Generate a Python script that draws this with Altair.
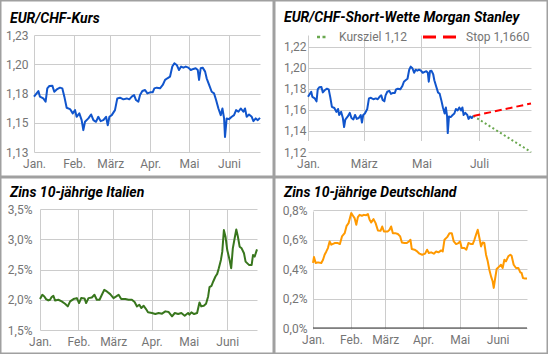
import json
import altair as alt
import pandas as pd

BASE = pd.Timestamp("2018-01-01")
MONTHS = ["Jan.", "Feb.", "März", "Apr.", "Mai", "Juni", "Juli", "Aug."]

TITLES = ["EUR/CHF-Kurs", "EUR/CHF-Short-Wette Morgan Stanley",
          "Zins 10-jährige Italien", "Zins 10-jährige Deutschland"]
LEGEND_LABELS = ["Kursziel 1,12", "Stop 1,1660"]

# EUR/CHF (days since 1 Jan 2018, rate)
eur_days = [0, 3.4, 4.6, 7.2, 9.0, 10.3, 11.9, 14.2, 15.7, 17.6,
            20.1, 21.9, 23.5, 25.3, 27.9, 30.0, 31.8, 33.0, 35.1, 36.9,
            38.2, 39.5, 42.1, 44.2, 46.0, 48.0, 49.8, 51.6, 53.7, 55.8,
            57.1, 58.4, 60.2, 62.7, 64.5, 66.6, 69.2, 71.8, 73.8, 75.7,
            77.5, 79.0, 80.8, 82.1, 83.9, 86.0, 87.8, 89.9, 91.9, 93.2,
            95.0, 97.6, 99.7, 101.5, 103.3, 105.3, 107.1, 108.7, 110.5, 112.3,
            113.9, 115.7, 117.5, 119.5, 121.4, 123.4, 125.2, 126.8, 127.8, 129.1,
            130.6, 132.5, 133.7, 135.6, 137.6, 139.4, 141.0, 142.8, 144.6, 145.9,
            147.2, 147.9, 149.2, 151.0, 153.1, 154.9, 156.5, 158.3, 160.1, 162.1,
            163.4, 164.7, 166.5, 168.6, 169.9, 171.7, 173.3, 175.0]
eur_vals = [1.1723, 1.1771, 1.1723, 1.1708, 1.1680, 1.1794, 1.1814, 1.1817, 1.1765, 1.1785,
            1.1800, 1.1794, 1.1723, 1.1628, 1.1617, 1.1580, 1.1608, 1.1551, 1.1580, 1.1522,
            1.1437, 1.1508, 1.1537, 1.1571, 1.1522, 1.1508, 1.1551, 1.1514, 1.1522, 1.1551,
            1.1479, 1.1551, 1.1565, 1.1608, 1.1708, 1.1714, 1.1700, 1.1708, 1.1700, 1.1723,
            1.1737, 1.1694, 1.1680, 1.1737, 1.1771, 1.1780, 1.1751, 1.1760, 1.1760, 1.1794,
            1.1800, 1.1794, 1.1823, 1.1866, 1.1880, 1.1894, 1.1980, 1.2009, 1.1994, 1.1951,
            1.1980, 1.1971, 1.1980, 1.1971, 1.1951, 1.1960, 1.1966, 1.1951, 1.1866, 1.1966,
            1.1971, 1.1937, 1.1880, 1.1823, 1.1765, 1.1751, 1.1694, 1.1622, 1.1565, 1.1622,
            1.1537, 1.1379, 1.1537, 1.1531, 1.1551, 1.1565, 1.1608, 1.1594, 1.1622, 1.1594,
            1.1622, 1.1551, 1.1571, 1.1551, 1.1514, 1.1537, 1.1522, 1.1542]

# Forecast lines (Morgan Stanley short bet)
fc_days = [175, 236]
fc_target = [1.1542, 1.12]
fc_stop = [1.1542, 1.166]

# Italy 10y yield (%)
ita_days = [0, 1.9, 3.5, 4.9, 6.7, 8.1, 9.4, 10.8, 12.1, 14.8,
            17.5, 20.2, 22.4, 24.3, 27, 29.7, 31.5, 33.2, 35.9, 37.2,
            39.1, 41.8, 43.9, 45.8, 48, 49.9, 51.8, 53.9, 56.6, 59.3,
            61.5, 63.4, 65.5, 68.8, 71.4, 74.1, 76.3, 78.2, 80.1, 81.7,
            83.6, 85.5, 87.1, 90.3, 93, 95.7, 98.4, 101.1, 103.8, 106.5,
            108.7, 111.4, 114, 116.7, 119.4, 120.5, 122.1, 124.3, 126.7, 128.6,
            130, 132.1, 133.9, 135.6, 136.7, 138.3, 139.7, 141.5, 142.9, 144.2,
            145.9, 147, 148.3, 149.6, 151, 152.9, 154.2, 155.5, 157.2, 158.3,
            159.6, 161, 162.6, 164.5, 165.8, 168.5, 170.7, 171.8, 173.1, 175]
ita_vals = [2.011, 2.082, 2.055, 2.011, 1.989, 2.0, 2.044, 2.066, 1.989, 2.0,
            1.973, 1.934, 1.890, 1.973, 2.011, 2.027, 1.945, 2.027, 2.022, 1.945,
            2.027, 2.038, 2.082, 2.0, 2.0, 2.082, 2.164, 2.137, 2.093, 2.027,
            2.055, 2.082, 2.011, 2.011, 2.0, 2.0, 1.962, 1.890, 1.918, 1.863,
            1.901, 1.846, 1.792, 1.781, 1.764, 1.781, 1.770, 1.808, 1.797, 1.726,
            1.781, 1.764, 1.781, 1.737, 1.781, 1.753, 1.792, 1.764, 1.781, 1.956,
            1.890, 1.901, 1.934, 2.055, 2.208, 2.230, 2.302, 2.384, 2.428, 2.521,
            2.658, 2.795, 3.151, 3.042, 2.822, 2.658, 2.521, 2.850, 3.042, 3.162,
            3.042, 2.877, 2.850, 2.768, 2.630, 2.576, 2.576, 2.740, 2.713, 2.833]

# Germany 10y yield (%)
ger_days = [0, 0.8, 2.2, 4.1, 6.8, 8.2, 9.5, 10.9, 12.2, 13.6,
            15, 17.7, 20.4, 22, 23.7, 25.9, 27.5, 29.1, 30.2, 31.3,
            32.7, 34, 35.4, 36.7, 38.1, 40, 41.6, 43.5, 44.9, 46.3,
            47.6, 49.5, 51.2, 53.1, 55.2, 56.6, 58, 59.9, 61.2, 62.6,
            63.9, 65.3, 67.2, 69.4, 71.3, 72.7, 74.8, 76.7, 78.4, 79.7,
            80.8, 83, 85.2, 87.1, 89.3, 91.7, 93.3, 94.7, 96.6, 98.8,
            100.7, 102.6, 104.8, 106.1, 107.5, 109.7, 111.6, 113.5, 115.1, 117,
            118.9, 120.3, 121.6, 123.8, 125.4, 127.1, 129.3, 130.6, 132, 133.3,
            134.7, 136.1, 137.4, 138.8, 140.1, 141.5, 142.9, 144.2, 145.6, 146.9,
            147.8, 148.8, 150.2, 152.4, 153.7, 155.1, 156.5, 157.8, 159.7, 161.4,
            162.4, 164.1, 166, 167.9, 169.5, 170.6, 171.7, 173.4, 175]
ger_vals = [0.441, 0.481, 0.441, 0.445, 0.441, 0.463, 0.497, 0.519, 0.542, 0.587,
            0.565, 0.576, 0.576, 0.569, 0.621, 0.643, 0.693, 0.711, 0.745, 0.779,
            0.761, 0.745, 0.700, 0.752, 0.767, 0.761, 0.767, 0.765, 0.772, 0.734,
            0.716, 0.738, 0.711, 0.661, 0.659, 0.688, 0.655, 0.655, 0.655, 0.666,
            0.688, 0.643, 0.643, 0.637, 0.621, 0.580, 0.576, 0.576, 0.587, 0.598,
            0.535, 0.531, 0.519, 0.504, 0.497, 0.504, 0.531, 0.508, 0.513, 0.504,
            0.519, 0.513, 0.526, 0.519, 0.598, 0.616, 0.643, 0.643, 0.587, 0.569,
            0.576, 0.587, 0.542, 0.542, 0.531, 0.576, 0.569, 0.569, 0.598, 0.632,
            0.666, 0.610, 0.553, 0.580, 0.576, 0.497, 0.452, 0.395, 0.350, 0.317,
            0.272, 0.328, 0.400, 0.418, 0.429, 0.407, 0.463, 0.452, 0.486, 0.497,
            0.490, 0.429, 0.407, 0.407, 0.377, 0.373, 0.339, 0.335, 0.335]

# Zero baseline of the German chart
zero_days = [0, 175]
zero_vals = [0.0, 0.0]

# Axis ticks / labels
eur1_ticks = [1.125, 1.15, 1.175, 1.2, 1.225]
eur1_labels = ["1,13", "1,15", "1,18", "1,20", "1,23"]
eur2_ticks = [1.12, 1.14, 1.16, 1.18, 1.2, 1.22]
eur2_labels = ["1,12", "1,14", "1,16", "1,18", "1,20", "1,22"]
ita_ticks = [1.5, 2.0, 2.5, 3.0, 3.5]
ita_labels = ["1,5%", "2,0%", "2,5%", "3,0%", "3,5%"]
ger_ticks = [0.0, 0.2, 0.4, 0.6, 0.8]
ger_labels = ["0,0%", "0,2%", "0,4%", "0,6%", "0,8%"]

BORDER = "#a0a0a0"
GRID = "#cccccc"
LABEL = "#757575"
FONT = "Roboto"
PW, PH = 274, 177


def to_df(days, vals):
    return pd.DataFrame({
        "date": [(BASE + pd.Timedelta(days=d)).strftime("%Y-%m-%dT%H:%M:%S") for d in days],
        "v": vals,
    })


def dt(m, d):
    return alt.DateTime(year=2018, month=m, date=d)


def x_enc(end, tick_months, rng, pad):
    return alt.X(
        "date:T",
        scale=alt.Scale(domain=[dt(1, 1), dt(*end)], range=rng),
        axis=alt.Axis(
            values=[dt(m, 1) for m in tick_months],
            labelExpr=f"{json.dumps(MONTHS, ensure_ascii=False)}[month(datum.value)]",
            title=None, ticks=False, domain=False, grid=True, gridColor=GRID, gridWidth=1,
            labelFont=FONT, labelFontSize=12, labelColor=LABEL, labelPadding=pad,
            labelFlush=False, labelOverlap=False,
        ),
    )


def y_enc(dom, ticks, labels, rng, pad):
    return alt.Y(
        "v:Q",
        scale=alt.Scale(domain=dom, nice=False, zero=False, range=rng),
        axis=alt.Axis(
            values=ticks,
            labelExpr=f"{json.dumps(labels)}[indexof({json.dumps(ticks)}, datum.value)]",
            title=None, ticks=False, domain=False, grid=True, gridColor=GRID, gridWidth=1,
            labelFont=FONT, labelFontSize=12, labelColor=LABEL, labelPadding=pad,
            labelOverlap=False,
        ),
    )


ONE = alt.Data(values=[{"k": 0}])


def frame(offx, offy):
    return alt.Chart(ONE).mark_rect(fillOpacity=0, stroke=BORDER, strokeWidth=1.5).encode(
        x=alt.value(-offx + 0.75), x2=alt.value(PW - offx - 0.75),
        y=alt.value(-offy + 0.75), y2=alt.value(PH - offy - 0.75),
    )


def title_mark(text, offx, offy, base):
    return alt.Chart(ONE).mark_text(
        text=text, align="left", baseline="alphabetic", font=FONT, fontSize=14,
        fontStyle="italic", fontWeight="bold", color="#000000",
    ).encode(x=alt.value(10 - offx), y=alt.value(base - offy))


def line(df, color, xe, ye, width=2, **kw):
    return alt.Chart(df).mark_line(color=color, strokeWidth=width, strokeJoin="round", **kw).encode(x=xe, y=ye)


# Common view origins: same x offset per column, same y offset per row
OX = 34
OY_TOP, OY_BOT = 35, 32

# Panel 1
xe1 = x_enc((6, 25), [1, 2, 3, 4, 5, 6], [0, 226], 6)
ye1 = y_enc([1.125, 1.225], eur1_ticks, eur1_labels, [117, 0], 6)
p1 = alt.layer(
    frame(OX, OY_TOP), title_mark(TITLES[0], OX, OY_TOP, 22.5),
    line(to_df(eur_days, eur_vals), "#1155cc", xe1, ye1),
).properties(width=226, height=117)

# Panel 2
xe2 = x_enc((8, 25), [1, 3, 5, 7], [0, 223], 6)
ye2 = y_enc([1.12, 1.22], eur2_ticks, eur2_labels, [117, 11.5], 2)
lx, ly = 9, 2
leg = [
    alt.Chart(ONE).mark_rule(color="#6aa84f", strokeWidth=2.5, strokeDash=[3, 2.5]).encode(
        x=alt.value(lx), x2=alt.value(lx + 8.5), y=alt.value(ly)),
    alt.Chart(ONE).mark_text(text=LEGEND_LABELS[0], align="left", baseline="middle", font=FONT,
                             fontSize=12, color=LABEL).encode(x=alt.value(lx + 22), y=alt.value(ly)),
    alt.Chart(ONE).mark_rule(color="#ff0000", strokeWidth=3, strokeDash=[13, 7]).encode(
        x=alt.value(lx + 106), x2=alt.value(lx + 139), y=alt.value(ly)),
    alt.Chart(ONE).mark_text(text=LEGEND_LABELS[1], align="left", baseline="middle", font=FONT,
                             fontSize=12, color=LABEL).encode(x=alt.value(lx + 149), y=alt.value(ly)),
]
p2 = alt.layer(
    frame(OX, OY_TOP), title_mark(TITLES[1], OX, OY_TOP, 22),
    line(to_df(eur_days, eur_vals), "#1155cc", xe2, ye2),
    line(to_df(fc_days, fc_target), "#6aa84f", xe2, ye2, strokeDash=[2, 2.5]),
    line(to_df(fc_days, fc_stop), "#ff0000", xe2, ye2, strokeDash=[7, 4]),
    *leg,
).properties(width=223, height=117)

# Panel 3
xe3 = x_enc((6, 25), [1, 2, 3, 4, 5, 6], [6, 223], 6)
ye3 = y_enc([1.5, 3.5], ita_ticks, ita_labels, [121, 0], 2)
p3 = alt.layer(
    frame(OX, OY_BOT), title_mark(TITLES[2], OX, OY_BOT, 19.5),
    line(to_df(ita_days, ita_vals), "#38761d", xe3, ye3),
).properties(width=223, height=121)

# Panel 4
xe4 = x_enc((6, 25), [1, 2, 3, 4, 5, 6], [5, 219], 4)
ye4 = y_enc([0.0, 0.8], ger_ticks, ger_labels, [119, 1], 1)
p4 = alt.layer(
    frame(OX, OY_BOT), title_mark(TITLES[3], OX, OY_BOT, 19.5),
    line(to_df(zero_days, zero_vals), "#333333", xe4, ye4, width=1),
    line(to_df(ger_days, ger_vals), "#ff9900", xe4, ye4),
).properties(width=219, height=121)

chart = alt.concat(
    p1, p2, p3, p4, columns=2, spacing=0,
).properties(padding=0, background="white").configure_view(strokeWidth=0)

chart.save("out.html", embed_options={"renderer": "svg", "actions": False})
